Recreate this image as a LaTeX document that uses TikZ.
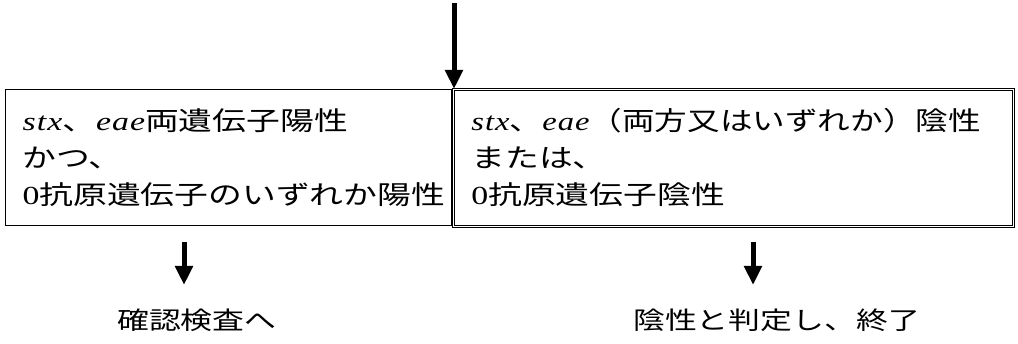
\documentclass[tikz,border=0pt]{standalone}
\usepackage{fontspec}
\setmainfont{Noto Sans CJK JP}[FakeStretch=1.3]
\newfontfamily\lat{Liberation Serif}[FakeStretch=1.3,LetterSpace=4]
\usetikzlibrary{arrows.meta}
\begin{document}
\begin{tikzpicture}[x=1pt,y=1pt,
  txt/.style={font=\fontsize{24.5}{37}\selectfont, inner sep=0pt},
  boxL/.style={draw, line width=1.4pt, anchor=north west, minimum width=446pt, minimum height=136pt,
     text width=412pt, inner xsep=17pt, align=left, font=\fontsize{26}{37}\selectfont},
  boxR/.style={draw, double, double distance=0.9pt, line width=0.9pt, anchor=north west,
     minimum width=560pt, minimum height=137pt,
     text width=524pt, inner xsep=18pt, align=left, font=\fontsize{26}{37}\selectfont},
  arr/.style={line width=5pt, -{Triangle[width=17pt,length=19pt]}}]
\useasboundingbox (0,0) rectangle (1018,343);
\node[boxL] (L) at (5,254) {\makebox[412pt][l]{{\lat\itshape stx}、{\lat\itshape eae}両遺伝子陽性}\\かつ、\\\makebox[412pt][l]{{\lat 0}抗原遺伝子のいずれか陽性}};
\node[boxR] (R) at (453,254) {\makebox[500pt][l]{\scalebox{0.965}[1]{{\lat\itshape stx}、{\lat\itshape eae}（両方又はいずれか）陰性}}\\または、\\{\lat 0}抗原遺伝子陰性};
\coordinate (top) at (454,340);
\draw[arr] (top) -- (top |- L.north);
\coordinate (a1) at (184,101);
\coordinate (b1) at (184,58);
\coordinate (a2) at (753,101);
\coordinate (b2) at (753,58);
\draw[arr] (a1) -- (b1);
\draw[arr] (a2) -- (b2);
\node[txt, anchor=west] (t1) at (117,23) {確認検査へ};
\node[txt, anchor=west] (t2) at (633,23) {陰性と判定し、終了};
\end{tikzpicture}
\end{document}
